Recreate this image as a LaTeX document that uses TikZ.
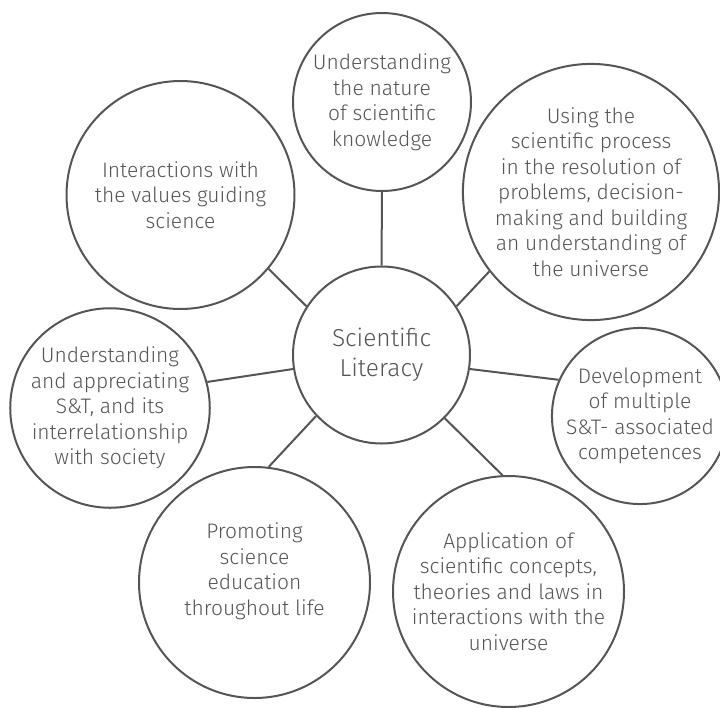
\documentclass[tikz,border=0pt]{standalone}
\usepackage{fontspec}
\setmainfont{Fira Sans Light}
\definecolor{ink}{HTML}{555555}
\begin{document}
\begin{tikzpicture}[x=1pt,y=-1pt,
  bubble/.style={circle,draw=ink,line width=2pt,inner sep=0pt,align=center,text=ink,
    font=\fontsize{21}{25.5}\selectfont},
  core/.style={bubble,font=\fontsize{24.5}{30}\selectfont},
  link/.style={draw=ink,line width=2pt}]
\useasboundingbox (0,0) rectangle (720,707);
\node[core,minimum size=177pt] (lit) at (381.5,355) {Scientific\\Literacy};
\node[bubble,minimum size=178pt] (nat) at (382,102) {Understanding\\the nature\\of scientific\\knowledge};
\node[bubble,minimum size=250pt] (proc) at (591,192) {Using the\\scientific process\\in the resolution of\\problems, decision-\\making and building\\an understanding of\\the universe};
\node[bubble,minimum size=176pt] (dev) at (640,416) {Development\\of multiple\\S\&T- associated\\competences};
\node[bubble,minimum size=231pt] (app) at (508.5,591.5) {Application of\\scientific concepts,\\theories and laws in\\interactions with the\\universe};
\node[bubble,minimum size=231pt,text depth=27pt] (prom) at (254.5,582.5) {Promoting\\science\\education\\throughout life};
\node[bubble,minimum size=198pt] (soc) at (110,408) {Understanding\\and appreciating\\S\&T, and its\\interrelationship\\with society};
\node[bubble,minimum size=228pt] (val) at (180.5,195) {Interactions with\\the values guiding\\science};
\draw[link] (val.-40.2) -- (lit.147.6);
\draw[link] (nat.-90) -- (lit.90);
\draw[link] (proc.218.2) -- (lit.33.9);
\draw[link] (lit.-9.1) -- (dev.156.6);
\draw[link] (lit.-45.7) -- (app.93.2);
\draw[link] (lit.223.9) -- (prom.83.3);
\draw[link] (lit.189.7) -- (soc.15.7);
\end{tikzpicture}
\end{document}
